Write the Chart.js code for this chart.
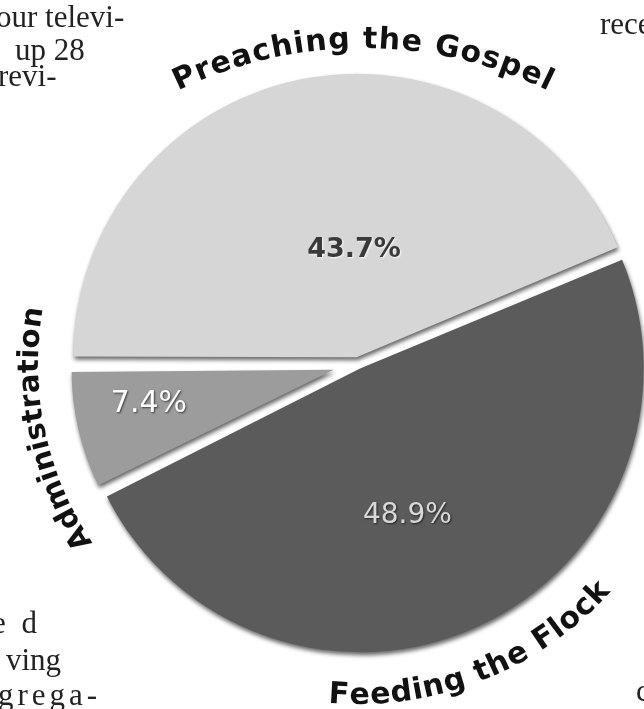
<!DOCTYPE html>
<html>
<head>
<meta charset="utf-8">
<script src="https://cdn.jsdelivr.net/npm/chart.js@4"></script>
<style>
  html, body { margin: 0; padding: 0; background: #fff; }
  #wrap { position: relative; width: 644px; height: 709px; overflow: hidden; }
  #myChart { position: absolute; left: 0; top: 0; }
  .page { position: absolute; font-family: "Liberation Serif", serif; font-size: 31px; color: #222; white-space: nowrap; line-height: 1; }
</style>
</head>
<body>
<div id="wrap">
  <canvas id="myChart" width="644" height="709"></canvas>
  <div class="page" style="left:-4px; top:1px;">our televi-</div>
  <div class="page" style="left:15px; top:34px;">up 28</div>
  <div class="page" style="left:-2px; top:60px;">revi-</div>
  <div class="page" style="left:600px; top:8px;">rece</div>
  <div class="page" style="left:-8px; top:607px; letter-spacing:4px;">e d</div>
  <div class="page" style="left:6px; top:644px;">ving</div>
  <div class="page" style="left:-2px; top:679px; letter-spacing:4px;">grega-</div>
  <div class="page" style="left:636px; top:675px;">c</div>
</div>
<script>
const CATEGORIES = ["Preaching the Gospel", "Feeding the Flock", "Administration"];
const SHARES = [43.7, 48.9, 7.4];
const PERCENT_LABELS = ["43.7%", "48.9%", "7.4%"];

const SLICE_COLORS = ["#d6d6d6", "#5b5b5b", "#9c9c9c"];
// exploded pieces, chart.js moves by offset / 4
const SLICE_OFFSETS = [28, 20, 100];
const ADMIN_SCALE = 0.89;

// curved category labels: centre, baseline radius, start/end angle (deg)
const ARC_LABELS = [
  { text: CATEGORIES[0], cx: 363, cy: 470, r: 422, from: 244, to: 296, up: true, size: 30 },
  { text: CATEGORIES[1], cx: 358, cy: 364, r: 340, from: 95, to: 42, up: false, size: 30 },
  { text: CATEGORIES[2], cx: 358, cy: 364, r: 320, from: 146, to: 190, up: true, size: 29 },
];

// percent labels: distance and angle from pie centre, colours
const PCT_POS = [
  { r: 114, a: 268, color: "#3a3a3a", shadow: "rgba(255,255,255,0.9)", font: "bold 27px" },
  { r: 160, a: 72, color: "#d8d8d8", shadow: "rgba(0,0,0,0.6)", font: "28px" },
  { r: 213, a: 169, color: "#ffffff", shadow: "rgba(0,0,0,0.6)", font: "30px" },
];

function drawArcText(ctx, lab) {
  ctx.save();
  ctx.font = "bold " + lab.size + "px 'DejaVu Sans'";
  ctx.fillStyle = "#111";
  ctx.textAlign = "center";
  ctx.textBaseline = "alphabetic";
  const chars = lab.text.split("");
  const widths = chars.map((c) => ctx.measureText(c).width);
  const total = widths.reduce((a, b) => a + b, 0);
  const span = Math.abs(lab.to - lab.from) * Math.PI / 180 * lab.r;
  const gap = (span - total) / (chars.length - 1);
  const dir = lab.to > lab.from ? 1 : -1;
  let acc = 0;
  chars.forEach((c, i) => {
    const a = lab.from * Math.PI / 180 + dir * (acc + widths[i] / 2) / lab.r;
    ctx.save();
    ctx.translate(lab.cx + lab.r * Math.cos(a), lab.cy + lab.r * Math.sin(a));
    ctx.rotate(lab.up ? a + Math.PI / 2 : a - Math.PI / 2);
    ctx.fillText(c, 0, 0);
    ctx.restore();
    acc += widths[i] + gap;
  });
  ctx.restore();
}

const pieLabels = {
  id: "pieLabels",
  afterDatasetUpdate(chart) {
    const arc = chart.getDatasetMeta(0).data[2];
    arc.outerRadius = arc.outerRadius * ADMIN_SCALE;
  },
  beforeDatasetDraw(chart) {
    const ctx = chart.ctx;
    ctx.save();
    ctx.shadowColor = "rgba(0,0,0,0.6)";
    ctx.shadowBlur = 4;
    ctx.shadowOffsetX = 1;
    ctx.shadowOffsetY = 3;
  },
  afterDatasetDraw(chart) {
    chart.ctx.restore();
  },
  afterDraw(chart) {
    const ctx = chart.ctx;
    const arc0 = chart.getDatasetMeta(0).data[0];
    const cx = arc0.x, cy = arc0.y;
    PERCENT_LABELS.forEach((txt, i) => {
      const p = PCT_POS[i];
      const a = p.a * Math.PI / 180;
      ctx.save();
      ctx.font = p.font + " 'DejaVu Sans'";
      ctx.textAlign = "center";
      ctx.textBaseline = "middle";
      ctx.shadowColor = p.shadow;
      ctx.shadowBlur = 2;
      ctx.shadowOffsetX = 1;
      ctx.shadowOffsetY = 1;
      ctx.fillStyle = p.color;
      ctx.fillText(txt, cx + p.r * Math.cos(a), cy + p.r * Math.sin(a));
      ctx.restore();
    });
    ARC_LABELS.forEach((lab) => drawArcText(ctx, lab));
  },
};

const ctx = document.getElementById("myChart").getContext("2d");

new Chart(ctx, {
  type: "pie",
  data: {
    labels: CATEGORIES,
    datasets: [
      {
        data: SHARES,
        backgroundColor: SLICE_COLORS,
        borderWidth: 0,
        offset: SLICE_OFFSETS,
      },
    ],
  },
  options: {
    responsive: false,
    animation: false,
    rotation: 270,
    radius: 279,
    layout: { padding: { left: 72, right: 0, top: 19, bottom: 0 } },
    plugins: {
      legend: { display: false },
      tooltip: { enabled: false },
    },
  },
  plugins: [pieLabels],
});
</script>
</body>
</html>
